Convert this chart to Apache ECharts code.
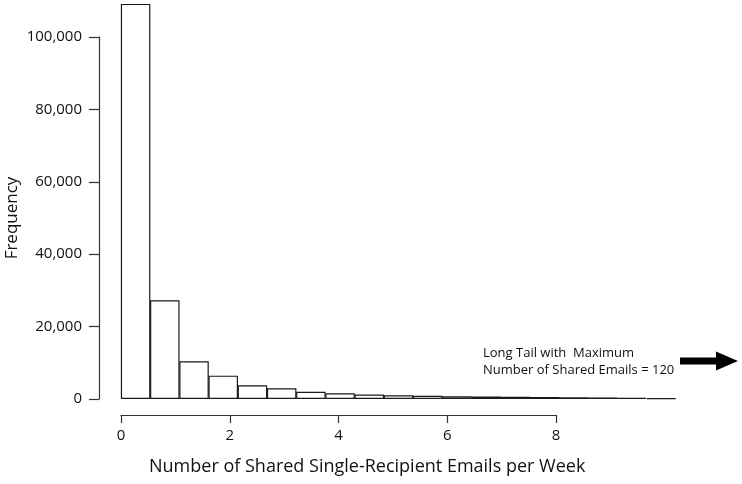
<!DOCTYPE html>
<html>
<head>
<meta charset="utf-8">
<script src="https://cdn.jsdelivr.net/npm/echarts@6/dist/echarts.min.js"></script>
<style>html,body{margin:0;padding:0;background:#fff}#c{width:742px;height:484px}</style>
</head>
<body>
<div id="c"></div>
<script>
// Histogram bins (left edge of each 0.5-wide bin)
const binStarts = [0, 0.5, 1, 1.5, 2, 2.5, 3, 3.5, 4, 4.5, 5, 5.5, 6, 6.5, 7, 7.5, 8, 8.5, 9];
// Frequencies
const frequencies = [109200, 27300, 10400, 6450, 3780, 2950, 2020, 1570, 1250, 1050, 880, 780, 700, 620, 550, 480, 420, 330, 180];
// Axis tick values
const yTicks = [0, 20000, 40000, 60000, 80000, 100000];
const xTicks = [0, 2, 4, 6, 8];
const annotation = 'Long Tail with  Maximum\nNumber of Shared Emails = 120';
const xTitle = 'Number of Shared Single-Recipient Emails per Week';
const yTitle = 'Frequency';

const FONT = '"Open Sans", "Noto Sans", sans-serif';
const TXT = '#111';
const LINE = '#333';

const chart = echarts.init(document.getElementById('c'), null, {renderer: 'canvas'});
chart.setOption({
  animation: false,
  backgroundColor: '#fff',
  grid: [
    {left: 121, right: 66, top: 1, bottom: 85},      // bars
    {left: 99, width: 1, top: 37, bottom: 85},       // y axis display
    {left: 121, width: 435, top: 414, height: 1}     // x axis display
  ],
  xAxis: [
    {gridIndex: 0, type: 'category', data: binStarts.map(String), show: false, boundaryGap: true},
    {gridIndex: 1, type: 'value', show: false},
    {gridIndex: 2, type: 'value', min: xTicks[0], max: xTicks[xTicks.length - 1], interval: 2,
     axisLine: {show: true, lineStyle: {color: LINE, width: 1.2}},
     axisTick: {show: true, length: 8, lineStyle: {color: LINE, width: 1.2}},
     axisLabel: {show: true, margin: 13, color: TXT, fontFamily: FONT, fontSize: 15},
     splitLine: {show: false}}
  ],
  yAxis: [
    {gridIndex: 0, type: 'value', min: 0, max: 110000, show: false},
    {gridIndex: 1, type: 'value', min: yTicks[0], max: yTicks[yTicks.length - 1], interval: 20000,
     axisLine: {show: true, lineStyle: {color: LINE, width: 1.2}},
     axisTick: {show: true, length: 10, lineStyle: {color: LINE, width: 1.2}},
     axisLabel: {show: true, margin: 17, color: TXT, fontFamily: FONT, fontSize: 15,
       formatter: v => v.toLocaleString('en-US')},
     splitLine: {show: false},
     name: yTitle, nameLocation: 'middle', nameGap: 78, nameRotate: 90,
     nameTextStyle: {color: TXT, fontFamily: FONT, fontSize: 17}},
    {gridIndex: 2, type: 'value', show: false}
  ],
  series: [{
    type: 'bar',
    xAxisIndex: 0, yAxisIndex: 0,
    data: frequencies,
    barWidth: '101%',
    itemStyle: {color: '#fff', borderColor: '#1a1a1a', borderWidth: 1.2},
    silent: true
  }],
  graphic: [
    {type: 'text', left: 149, top: 458,
     style: {text: xTitle, fill: TXT, font: '18px ' + FONT}},
    {type: 'text', left: 483, top: 345,
     style: {text: annotation, fill: TXT, font: '13px ' + FONT, lineHeight: 17}},
    {type: 'polygon',
     shape: {points: [[680, 357.5], [716, 357.5], [716, 351.5], [738, 361], [716, 370.5], [716, 364.5], [680, 364.5]]},
     style: {fill: '#000'}}
  ]
});
</script>
</body>
</html>
